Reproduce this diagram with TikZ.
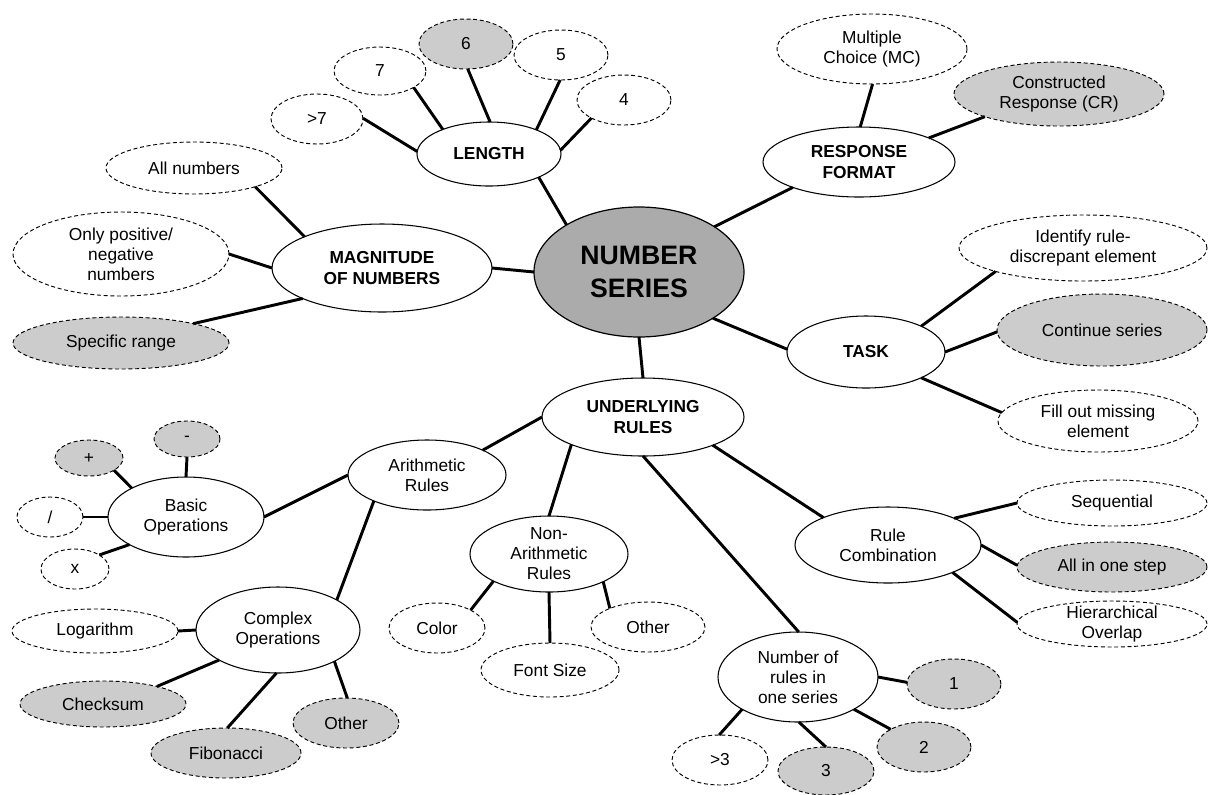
\documentclass[tikz,border=0pt]{standalone}
\usepackage{fontspec}
\setmainfont{Liberation Sans}
\usetikzlibrary{shapes.geometric}
\definecolor{centerfill}{gray}{0.67}
\definecolor{leaffill}{gray}{0.8}
\tikzset{
  sz/.style 2 args={minimum width={#1*1.5pt}, minimum height={#2*1.5pt}},
  base/.style={ellipse, inner sep=-40pt, outer sep=0pt, align=center,
    font=\fontsize{13}{15}\selectfont, draw=black, fill=white},
  hub/.style={base, line width=0.9pt, fill=centerfill,
    font=\fontsize{20}{25}\selectfont\bfseries},
  cat/.style={base, line width=0.8pt, font=\fontsize{13}{16}\selectfont\bfseries},
  sub/.style={base, line width=0.8pt},
  leaf/.style={base, line width=0.7pt, dash pattern=on 3pt off 2pt},
  leafg/.style={leaf, fill=leaffill},
  link/.style={line width=2.2pt}
}
\begin{document}
\begin{tikzpicture}[x=0.75pt, y=-0.75pt]
\useasboundingbox (0,0) rectangle (1211,794);
% center
\node[hub, sz={105}{65}] (NS) at (639,272) {NUMBER\\SERIES};
% length
\node[cat, sz={72}{32}] (LEN) at (489,154) {LENGTH};
\node[leaf, sz={46}{25}] (gt7) at (317,119) {>7};
\node[leaf, sz={46}{24}] (L7) at (380,71) {7};
\node[leafg, sz={47}{25}] (L6) at (466,44) {6};
\node[leaf, sz={47}{25}] (L5) at (561,55) {5};
\node[leaf, sz={47}{25}] (L4) at (624,100) {4};
% magnitude
\node[cat, sz={110}{44}] (MAG) at (382,268) {MAGNITUDE\\OF NUMBERS};
\node[leaf, sz={88}{26}] (ALL) at (194,168) {All numbers};
\node[leaf, sz={108}{42}] (POS) at (121,254) {Only positive/\\negative\\numbers};
\node[leafg, sz={108}{26}] (SPEC) at (121,343) {Specific range};
% response format
\node[cat, sz={96}{35}] (RF) at (859,162) {RESPONSE\\FORMAT};
\node[leaf, sz={95}{35}] (MC) at (872,49) {Multiple\\Choice (MC)};
\node[leafg, sz={105}{32}] (CR) at (1059,94) {Constructed\\Response (CR)};
% task
\node[cat, sz={79}{36}] (TASK) at (866,352) {TASK};
\node[leaf, sz={124}{33}] (IDEN) at (1083,248) {Identify rule-\\discrepant element};
\node[leafg, sz={105}{36}] (CONT) at (1102,330) {Continue series};
\node[leaf, sz={100}{31}] (FILL) at (1098,421) {Fill out missing\\element};
% underlying rules
\node[cat, sz={101}{39}] (UR) at (643,417) {UNDERLYING\\RULES};
\node[sub, sz={79}{35}] (AR) at (427,475) {Arithmetic\\Rules};
\node[sub, sz={78}{40}] (BASIC) at (186,517) {Basic\\Operations};
\node[leafg, sz={33}{18}] (MINUS) at (187,439) {-};
\node[leafg, sz={34}{18}] (PLUS) at (89,458) {+};
\node[leaf, sz={33}{20}] (DIV) at (50,517) {/};
\node[leaf, sz={34}{20}] (TIMES) at (75,569) {x};
\node[sub, sz={82}{43}] (COMP) at (278,630) {Complex\\Operations};
\node[leaf, sz={83}{22}] (LOG) at (95,631) {Logarithm};
\node[leafg, sz={83}{23}] (CHK) at (103,704) {Checksum};
\node[leafg, sz={75}{25}] (FIB) at (226,753) {Fibonacci};
\node[leafg, sz={53}{25}] (OTH1) at (346,723) {Other};
\node[sub, sz={79}{38}] (NAR) at (549,554) {Non-\\Arithmetic\\Rules};
\node[leaf, sz={48}{25}] (COL) at (437,628) {Color};
\node[leaf, sz={69}{27}] (FONT) at (550,670) {Font Size};
\node[leaf, sz={57}{25}] (OTH2) at (648,627) {Other};
\node[sub, sz={93}{38}] (RC) at (888,545) {Rule\\Combination};
\node[leaf, sz={95}{23}] (SEQ) at (1112,503) {Sequential};
\node[leafg, sz={95}{25}] (ALLIN) at (1112,567) {All in one step};
\node[leaf, sz={95}{23}] (HIER) at (1112,624) {Hierarchical\\Overlap};
\node[sub, sz={80}{45}] (NR) at (798,677) {Number of\\rules in\\one series};
\node[leafg, sz={47}{25}] (N1) at (954,684) {1};
\node[leafg, sz={47}{25}] (N2) at (924,747) {2};
\node[leafg, sz={48}{24}] (N3) at (826,771) {3};
\node[leaf, sz={48}{25}] (GT3) at (720,760) {>3};
% connectors
\draw[link] (NS.147.6) -- (LEN.335.6);
\draw[link] (MAG.0) -- (NS.180);
\draw[link] (NS.31.9) -- (RF.201);
\draw[link] (NS.328.1) -- (TASK.178.5);
\draw[link] (NS.270) -- (UR.90);
\draw[link] (LEN.178.4) -- (gt7.1);
\draw[link] (LEN.152) -- (L7.334.1);
\draw[link] (LEN.88.5) -- (L6.274.6);
\draw[link] (LEN.27.4) -- (L5.268);
\draw[link] (LEN.3) -- (L4.209.4);
\draw[link] (MAG.158.3) -- (ALL.343.2);
\draw[link] (MAG.180) -- (POS.0);
\draw[link] (MAG.201.7) -- (SPEC.15.3);
\draw[link] (RF.88.4) -- (MC.271.6);
\draw[link] (RF.19.7) -- (CR.197.5);
\draw[link] (TASK.25.3) -- (IDEN.195.4);
\draw[link] (TASK.0.7) -- (CONT.181);
\draw[link] (TASK.335.6) -- (FILL.175.5);
\draw[link] (UR.180) -- (AR.24.5);
\draw[link] (UR.201) -- (NAR.90);
\draw[link] (UR.270) -- (NR.89);
\draw[link] (UR.338.7) -- (RC.157.4);
\draw[link] (AR.180) -- (BASIC.0);
\draw[link] (AR.206) -- (COMP.27.3);
\draw[link] (BASIC.152.6) -- (PLUS.334.4);
\draw[link] (BASIC.90) -- (MINUS.270);
\draw[link] (BASIC.180) -- (DIV.0);
\draw[link] (BASIC.206.6) -- (TIMES.30.3);
\draw[link] (COMP.180) -- (LOG.0);
\draw[link] (COMP.207.7) -- (CHK.18.2);
\draw[link] (COMP.268.7) -- (FIB.87.7);
\draw[link] (COMP.331.1) -- (OTH1.87.7);
\draw[link] (NAR.206.2) -- (COL.28.6);
\draw[link] (NAR.270) -- (FONT.90);
\draw[link] (NAR.333.4) -- (OTH2.154.6);
\draw[link] (RC.22.7) -- (SEQ.180.6);
\draw[link] (RC.0) -- (ALLIN.179.4);
\draw[link] (RC.337.3) -- (HIER.179.4);
\draw[link] (NR.0) -- (N1.178.8);
\draw[link] (NR.330.7) -- (N2.152);
\draw[link] (NR.271.2) -- (N3.90);
\draw[link] (NR.210.5) -- (GT3.92.3);
\end{tikzpicture}
\end{document}
